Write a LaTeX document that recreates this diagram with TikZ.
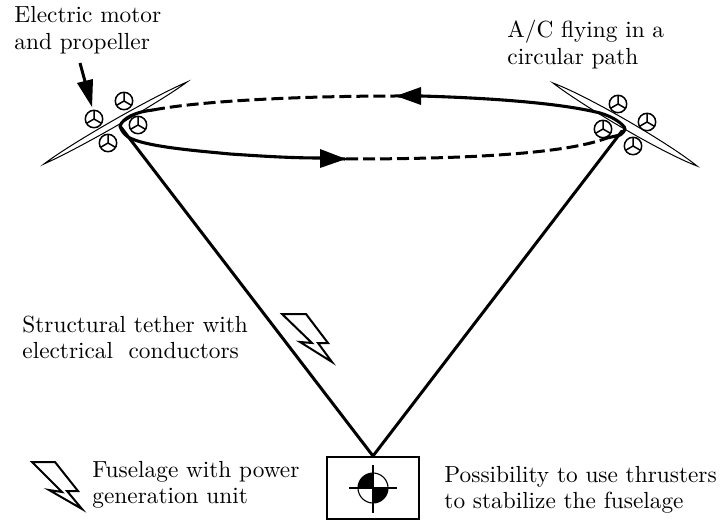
\documentclass[tikz,border=0pt]{standalone}
\usetikzlibrary{arrows.meta}
\tikzset{
  x=1pt,y=-1pt,
  lbl/.style={anchor=base west,inner sep=0pt,scale=2.33,font=\fontsize{10}{12}\selectfont},
  thick line/.style={line width=3pt,line cap=round},
  path solid/.style={line width=3.1pt},
  path dash/.style={line width=3pt,dash pattern=on 12pt off 5pt},
  wing/.style={draw,line width=1pt,fill=white},
  bolt/.style={draw,line width=2pt,line join=miter,miter limit=10,fill=white},
  prop/.pic={
    \draw[line width=1.5pt,fill=white] (0,0) circle (8.7);
    \draw[line width=1.5pt] (0,0) -- (0,-8.7) (0,0) -- (7.5,4.35) (0,0) -- (-7.5,4.35);
  }
}
\begin{document}
\begin{tikzpicture}
\useasboundingbox (0,0) rectangle (720,521);
% named points
\coordinate (tl) at (120,126);
\coordinate (tr) at (625,128);
\coordinate (apex) at (373,456);
\coordinate (a1) at (421,96);
\coordinate (a2) at (320,158);
% wings
\path[wing] (44,164) .. controls (70,144) and (150,98) .. (187,82) .. controls (160,102) and (80,148) .. (44,164) -- cycle;
\path[wing] (553,83) .. controls (590,97) and (670,144) .. (697,166) .. controls (660,152) and (580,104) .. (553,83) -- cycle;
% props
\pic at (94,119) {prop};
\pic at (124,101) {prop};
\pic at (138,125) {prop};
\pic at (108,143) {prop};
\pic at (618,104) {prop};
\pic at (647,122) {prop};
\pic at (603,129) {prop};
\pic at (633,146) {prop};
% circular path
\draw[path dash] (153,110) .. controls (200,101) and (300,96) .. (398,96);
\draw[path solid] (398,96) -- (a1) .. controls (490,98) and (560,103) .. (600,113) .. controls (610,116) and (620,121) .. (tr);
\draw[path dash] (346,159) .. controls (440,159) and (560,156) .. (607,138);
\draw[path solid,line cap=round] (tl) .. controls (121,130) and (124,134) .. (128,137) .. controls (145,147) and (200,151) .. (230,154) .. controls (260,156) and (290,158) .. (a2) -- (345,159);
\draw[path solid,line cap=round] (tl) .. controls (123,118) and (135,112) .. (153,110);
\draw[path solid,line cap=round] (tr) .. controls (625,131) and (622,134) .. (620,135) -- (607,138);
\fill (421,87) -- (396,96) -- (421,105) -- cycle;
\fill (320,149) -- (346,159) -- (320,168) -- cycle;
% tethers
\draw[thick line] (tl) -- (apex);
\draw[thick line] (622,131) -- (apex);
% fuselage
\node[draw,line width=2.8pt,minimum width=92pt,minimum height=62pt,inner sep=0pt] (box) at (373,488) {};
\fill (373,488) -- (358,488) arc[start angle=180,end angle=90,x radius=15,y radius=-15] -- cycle;
\fill (373,488) -- (388,488) arc[start angle=0,end angle=-90,x radius=15,y radius=-15] -- cycle;
\draw[line width=1.1pt] (373,488) circle (15);
\draw[line width=1.1pt] (349,488) -- (397,488) (373,465) -- (373,513);
% bolts
\draw[bolt] (32,462) -- (55,462) -- (78,491) -- (67,491) -- (82,509) -- (49,490) -- (62,492) -- cycle;
\draw[bolt] (282,314) -- (306,314) -- (328,343) -- (318,343) -- (332,362) -- (300,342) -- (312,343) -- cycle;
% motor arrow
\draw[line width=3pt] (80,63) -- (86,85);
\fill (77,83) -- (93,79) -- (92,107) -- cycle;
% labels
\node[lbl] (t1) at (14,23) {Electric motor};
\node[lbl] (t2) at (14,50) {and propeller};
\node[lbl] (t3) at (507,38) {A/C flying in a};
\node[lbl] (t4) at (507,65) {circular path};
\node[lbl] (t5) at (22,332) {Structural tether with};
\node[lbl] (t6) at (22,358) {electrical\ \ conductors};
\node[lbl] (t7) at (92,477) {Fuselage with power};
\node[lbl] (t8) at (92,503) {generation unit};
\node[lbl] (t9) at (444,482) {Possibility to use thrusters};
\node[lbl] (t10) at (444,508) {to stabilize the fuselage};
\end{tikzpicture}
\end{document}
